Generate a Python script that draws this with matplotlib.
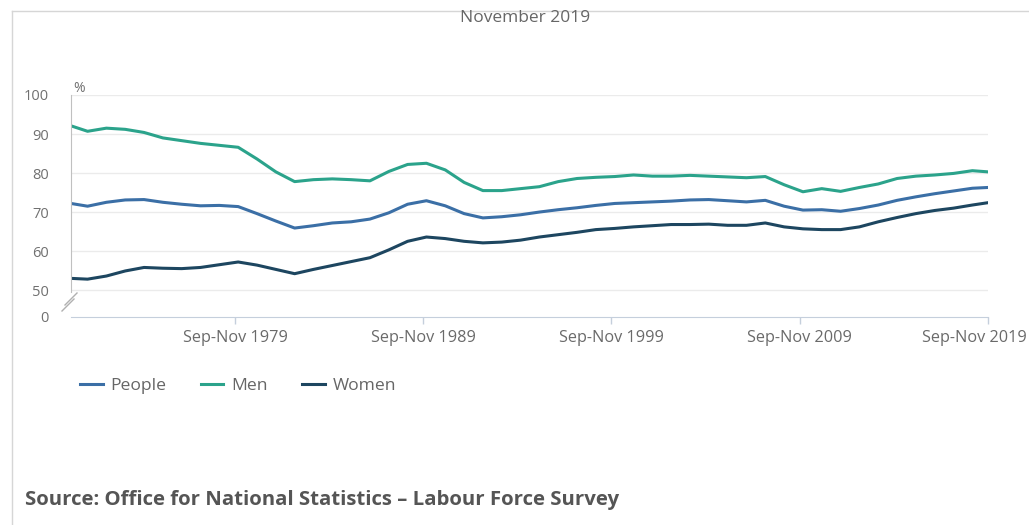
import matplotlib
matplotlib.use('Agg')
import matplotlib.pyplot as plt
import matplotlib.transforms as mtransforms
from matplotlib.lines import Line2D
import numpy as np

# decimal year of the middle of each rolling quarter (Jan-Mar 1971 ... Sep-Nov 2019)
years = [1971.12, 1972, 1973, 1974, 1975, 1976, 1977, 1978, 1979, 1980,
         1981, 1982, 1983, 1984, 1985, 1986, 1987, 1988, 1989, 1990,
         1991, 1992, 1993, 1994, 1995, 1996, 1997, 1998, 1999, 2000,
         2001, 2002, 2003, 2004, 2005, 2006, 2007, 2008, 2009, 2010,
         2011, 2012, 2013, 2014, 2015, 2016, 2017, 2018, 2019, 2019.83]

people = [72.2, 71.5, 72.5, 73.1, 73.2, 72.5, 72.0, 71.6, 71.7, 71.4,
          69.6, 67.7, 65.9, 66.5, 67.2, 67.5, 68.2, 69.8, 72.0, 72.9,
          71.6, 69.6, 68.5, 68.8, 69.3, 70.0, 70.6, 71.1, 71.7, 72.2,
          72.4, 72.6, 72.8, 73.1, 73.2, 72.9, 72.6, 73.0, 71.5, 70.5,
          70.6, 70.2, 70.9, 71.8, 73.0, 73.9, 74.7, 75.4, 76.1, 76.3]

men = [92.1, 90.7, 91.5, 91.2, 90.4, 89.0, 88.3, 87.6, 87.1, 86.6,
       83.6, 80.3, 77.8, 78.3, 78.5, 78.3, 78.0, 80.4, 82.2, 82.5,
       80.8, 77.6, 75.5, 75.5, 76.0, 76.5, 77.8, 78.6, 78.9, 79.1,
       79.5, 79.2, 79.2, 79.4, 79.2, 79.0, 78.8, 79.1, 77.0, 75.2,
       76.0, 75.3, 76.3, 77.2, 78.6, 79.2, 79.5, 79.9, 80.6, 80.3]

women = [53.0, 52.8, 53.6, 54.9, 55.8, 55.6, 55.5, 55.8, 56.5, 57.2,
         56.4, 55.3, 54.2, 55.3, 56.3, 57.3, 58.3, 60.3, 62.5, 63.6,
         63.2, 62.5, 62.1, 62.3, 62.8, 63.6, 64.2, 64.8, 65.5, 65.8,
         66.2, 66.5, 66.8, 66.8, 66.9, 66.6, 66.6, 67.2, 66.2, 65.7,
         65.5, 65.5, 66.2, 67.5, 68.6, 69.6, 70.4, 71.0, 71.8, 72.4]

xtick_pos = [1979.83, 1989.83, 1999.83, 2009.83, 2019.83]
xtick_labels = ['Sep-Nov 1979', 'Sep-Nov 1989', 'Sep-Nov 1999',
                'Sep-Nov 2009', 'Sep-Nov 2019']
ytick_vals = [50, 60, 70, 80, 90, 100]
y_floor = 43.1  # where the broken axis shows "0"

series = [('People', people, '#3b6fa6'),
          ('Men', men, '#2ba38b'),
          ('Women', women, '#1d4660')]

plt.rcParams['font.family'] = ['Open Sans', 'DejaVu Sans']

W, H = 1029, 525
fig = plt.figure(figsize=(W / 100, H / 100), dpi=100)


def fx(px):
    return px / W


def fy(py):
    return 1 - py / H


ax = fig.add_axes([fx(71), fy(317), fx(988) - fx(71), fy(95) - fy(317)])

for name, vals, col in series:
    ax.plot(years, vals, color=col, linewidth=2.2, label=name)

ax.set_xlim(years[0], years[-1])
ax.set_ylim(y_floor, 100)

ax.set_yticks([y_floor] + ytick_vals)
ax.set_yticklabels(['0'] + [str(v) for v in ytick_vals])
ax.set_xticks(xtick_pos)
ax.set_xticklabels(xtick_labels)
ax.tick_params(axis='y', length=0, pad=16, labelsize=10.5, labelcolor='#707070')
ax.tick_params(axis='x', length=5, width=1, color='#c5cfdc', pad=4,
               labelsize=11.7, labelcolor='#6a6a6a')

# last tick label sits a little left of its tick, as in the original
last = ax.get_xticklabels()[-1]
last.set_transform(last.get_transform() +
                   mtransforms.ScaledTranslation(-14 / 100, 0, fig.dpi_scale_trans))

ax.grid(axis='y', color='#ebebeb', linewidth=1)
ax.grid(axis='x', visible=False)
for gl, v in zip(ax.get_ygridlines(), [y_floor] + ytick_vals):
    if v == y_floor:
        gl.set_visible(False)

for s in ['top', 'right']:
    ax.spines[s].set_visible(False)
ax.spines['bottom'].set_color('#c5cfdc')
ax.spines['left'].set_color('#c0c0c0')
ax.spines['left'].set_bounds(49.5, 100)

# axis break marks
aw, ah = 917, 222
for dx, dy in [(0, 0), (-3, -6)]:
    x0, y0 = 65 + dx, 305 - dy
    x1, y1 = 77 + dx, 293 - dy
    ax.plot([(x0 - 71) / aw, (x1 - 71) / aw], [(317 - y0) / ah, (317 - y1) / ah],
            transform=ax.transAxes, color='#b0b0b0', linewidth=1, clip_on=False)

ax.text(2 / aw, 1.0 + 7 / ah, '%', transform=ax.transAxes, ha='left', va='center',
        fontsize=10, color='#707070')

fig.text(fx(525), fy(18), 'November 2019', ha='center', va='center',
         fontsize=12.5, color='#666666')

handles = [Line2D([0], [0], color=c, linewidth=2.2) for _, _, c in series]
fig.legend(handles, [n for n, _, _ in series], loc='center left',
           bbox_to_anchor=(fx(64), fy(386)), ncol=3, frameon=False,
           fontsize=12.6, labelcolor='#666666', handlelength=1.3,
           handletextpad=0.45, columnspacing=1.95)

fig.text(fx(25), fy(500), 'Source: Office for National Statistics \u2013 Labour Force Survey',
         ha='left', va='center', fontsize=14.7, fontweight='bold', color='#555555')

# outer frame lines
fig.add_artist(Line2D([fx(12), fx(12)], [fy(11), 0], color='#d6d6d6', linewidth=1))
fig.add_artist(Line2D([fx(12), 1], [fy(11), fy(11)], color='#d6d6d6', linewidth=1))

fig.savefig('out.png', dpi=100)
